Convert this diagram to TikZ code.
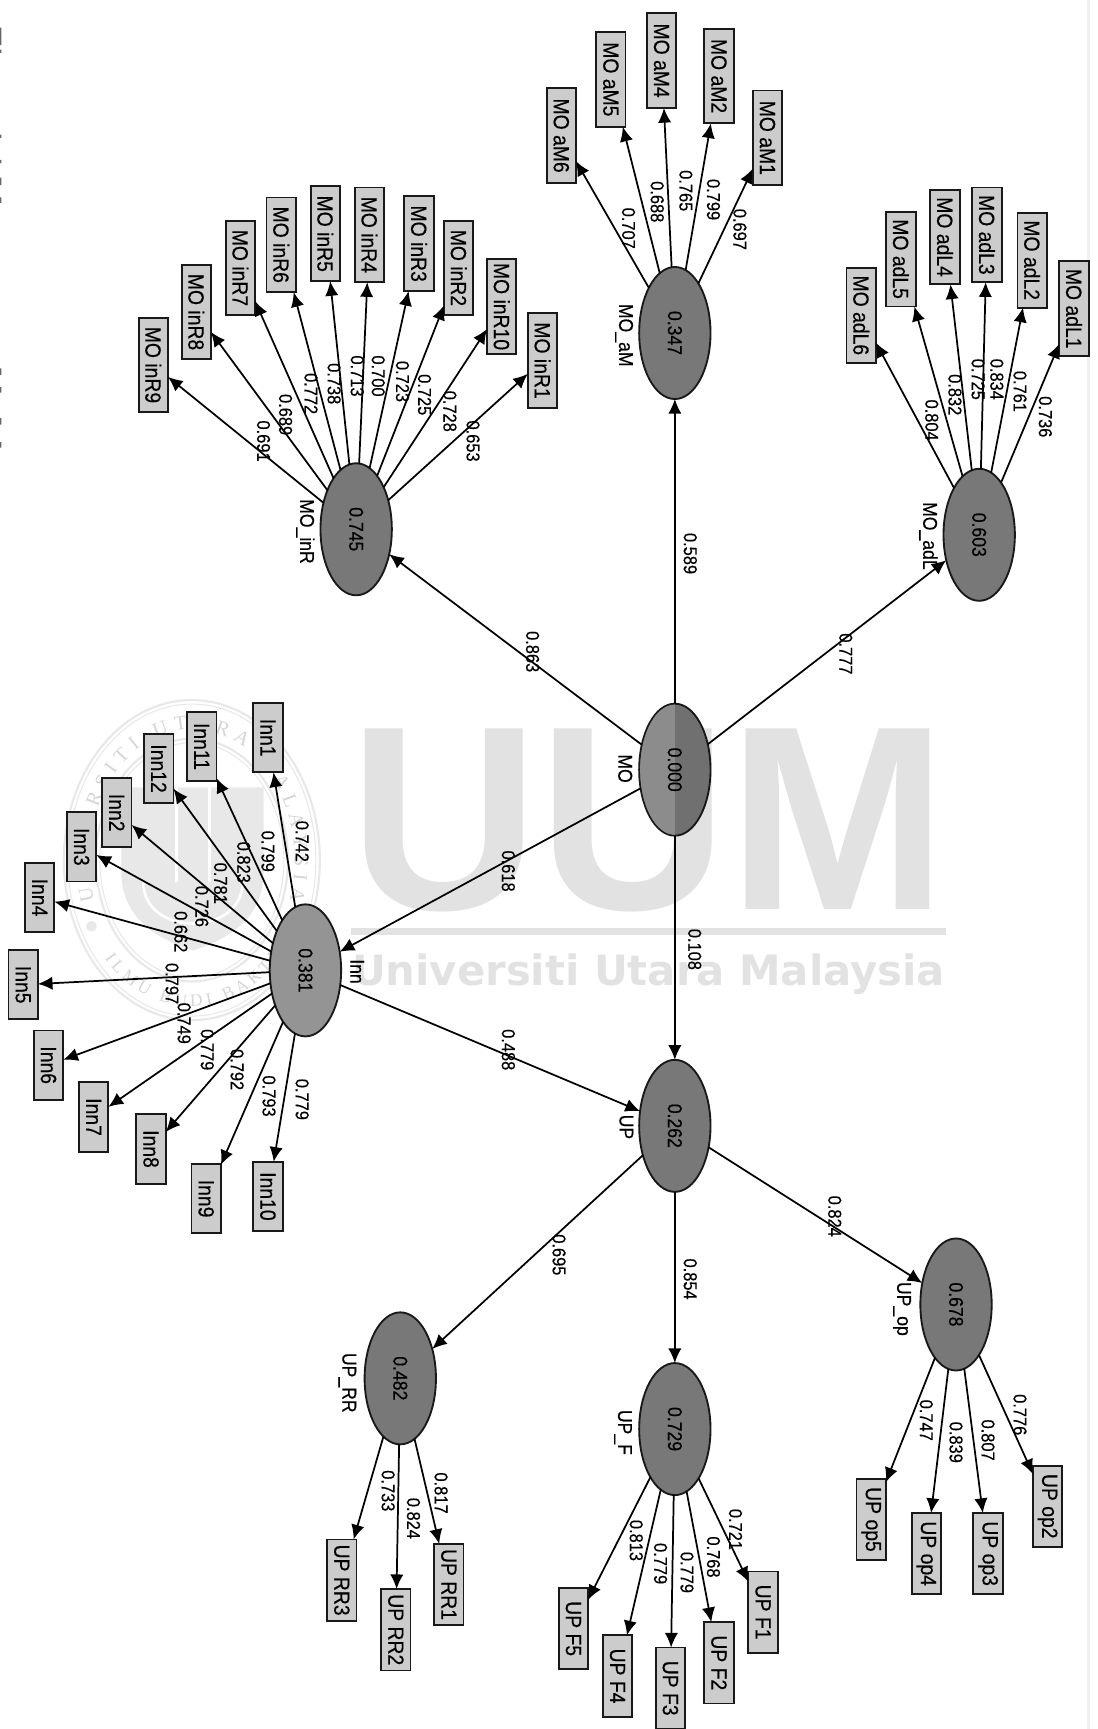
\documentclass[tikz,border=0pt]{standalone}
\usepackage{fontspec}
\setmainfont[FakeStretch=0.88,FakeBold=0.4]{Liberation Sans}
\newfontfamily\uumfont{Liberation Sans}
\newfontfamily\wmfont{DejaVu Sans}
\newfontfamily\sealfont{Liberation Serif}
\usetikzlibrary{arrows.meta,decorations.text,shapes.geometric}
\definecolor{markgray}{HTML}{E2E2E2}
\definecolor{sealgray}{HTML}{E8E8E8}
\definecolor{latentgray}{HTML}{787878}
\definecolor{itemgray}{HTML}{CCCCCC}
\tikzset{
  latent/.style={draw=black!90, line width=1.4pt, fill=latentgray, ellipse, rotate=-90, minimum width=99pt, minimum height=53.5pt, inner sep=0pt, outer sep=0pt, font=\fontsize{15}{15}\selectfont},
  item/.style={draw=black!90, line width=1.4pt, fill=itemgray, rotate=-90, minimum height=22pt, inner sep=0pt, outer sep=0pt, font=\fontsize{16.5}{16.5}\selectfont},
  moitem/.style={item, minimum width=71pt},
  innitem/.style={item, minimum width=52pt},
  upitem/.style={item, minimum width=61pt},
  val/.style={rotate=-90, inner sep=0pt, font=\fontsize{14}{14}\selectfont},
  latentname/.style={rotate=-90, inner sep=0pt, font=\fontsize{15}{15}\selectfont},
  link/.style={->, draw=black, line width=1.3pt},
  sealline/.style={draw=sealgray, line width=1.6pt}
}
\begin{document}
\begin{tikzpicture}[x=0.8269pt, y=-0.8269pt, >={Latex[length=11pt,width=10pt]}]
\useasboundingbox (0,0) rectangle (995,1568);
\draw[draw=black!6, line width=2pt] (987,0) -- (987,1568);
\fill[black!60] (0,25) rectangle (1.2,41) (0,45) rectangle (1.2,48) (0,122) rectangle (1.2,125) (0,145) rectangle (1.2,148) (0,161) rectangle (1.2,168) (0,179) rectangle (1.2,184) (0,334) rectangle (1.2,340) (0,351) rectangle (1.2,356) (0,379) rectangle (1.2,385) (0,401) rectangle (1.2,406);
\coordinate (sealc) at (174,780);
\draw[sealline] (sealc) ellipse [x radius=96pt, y radius=120pt];
\draw[sealline, line width=0.8pt] (sealc) ellipse [x radius=93pt, y radius=117pt];
\draw[sealline] (sealc) ellipse [x radius=72pt, y radius=91pt];
\draw[sealline, line width=0.8pt] (sealc) ellipse [x radius=69pt, y radius=88pt];
\fill[sealgray] (83,840) circle [radius=4pt];
\fill[sealgray] (263,840) circle [radius=4pt];
\path[decorate, decoration={text along path, text align=fit to path, text={|\sealfont\fontsize{15}{15}\selectfont\color{sealgray!92!black}|UNIVERSITI UTARA MALAYSIA}}] ([shift={(198:77pt and 98pt)}]sealc) arc [start angle=198, end angle=-18, x radius=77pt, y radius=98pt];
\path[decorate, decoration={text along path, text align=fit to path, text={|\sealfont\fontsize{13}{13}\selectfont\color{sealgray!92!black}|ILMU BUDI BAKTI}}] ([shift={(222:88pt and 110pt)}]sealc) arc [start angle=222, end angle=318, x radius=88pt, y radius=110pt];
\fill[sealgray] (110,714) -- (239,714) -- (239,790) .. controls (239,835) and (205,852) .. (175,862) .. controls (145,852) and (110,835) .. (110,790) -- cycle;
\draw[draw=white, line width=2pt] (160,714) -- (160,800) (190,714) -- (190,800) (130,800) .. controls (130,850) and (220,850) .. (220,800);
\node[font=\uumfont\bfseries\fontsize{197}{197}\selectfont, text=markgray, inner sep=0pt, anchor=base] (wmuum) at (588,825) {UUM};
\fill[markgray] (318,842) rectangle (858,848);
\node[font=\wmfont\bfseries\fontsize{31.3}{31.3}\selectfont, text=markgray, inner sep=0pt, anchor=base] (wmname) at (588,894) {Universiti Utara Malaysia};
\node[latent, fill=black!56] (MO) at (612,698) {};
\begin{scope}
\clip (560,630) rectangle (612,770);
\fill[black!45] (MO.center) ellipse [x radius=26pt, y radius=48.8pt];
\end{scope}
\node[rotate=-90, inner sep=0pt, font=\fontsize{15}{15}\selectfont] (MOvalue) at (MO.center) {0.000};
\node[latent] (MOinR) at (323,480) {0.745};
\node[latent] (MOaM) at (612,302) {0.347};
\node[latent] (MOadL) at (888,485) {0.603};
\node[latent, fill=black!42] (Inn) at (277,880) {0.381};
\node[latent] (UP) at (612,1021) {0.262};
\node[latent] (UPop) at (867,1183) {0.678};
\node[latent] (UPF) at (612,1296) {0.729};
\node[latent] (UPRR) at (363,1250) {0.482};
\node[latentname] (MOname) at (567,697) {MO};
\node[latentname] (MOinRname) at (277,482) {MO\_inR};
\node[latentname] (MOaMname) at (566,304) {MO\_aM};
\node[latentname] (MOadLname) at (842,486) {MO\_adL};
\node[latentname] (Innname) at (324,881) {Inn};
\node[latentname] (UPname) at (568,1022) {UP};
\node[latentname] (UPopname) at (818,1187) {UP\_op};
\node[latentname] (UPFname) at (565,1299) {UP\_F};
\node[latentname] (UPRRname) at (315,1254) {UP\_RR};
\draw[link] (MO) -- (MOinR);
\draw[link] (MO) -- (MOaM);
\draw[link] (MO) -- (MOadL);
\draw[link] (MO) -- (Inn);
\draw[link] (MO) -- (UP);
\draw[link] (Inn) -- (UP);
\draw[link] (UP) -- (UPop);
\draw[link] (UP) -- (UPF);
\draw[link] (UP) -- (UPRR);
\node[val] (MOinRv) at (483,591) {0.863};
\node[val] (MOaMv) at (626,502) {0.589};
\node[val] (MOadLv) at (767,593) {0.777};
\node[val] (MOInnv) at (461,790) {0.618};
\node[val] (MOUPv) at (630,861) {0.108};
\node[val] (InnUPv) at (461,952) {0.488};
\node[val] (UPopv) at (757,1103) {0.824};
\node[val] (UPFv) at (626,1160) {0.854};
\node[val] (UPRRv) at (507,1138) {0.695};
\node[moitem] (inR9) at (139,331) {MO inR9};
\node[moitem] (inR8) at (178,283) {MO inR8};
\node[moitem] (inR7) at (218,243) {MO inR7};
\node[moitem] (inR6) at (255,222) {MO inR6};
\node[moitem] (inR5) at (295,212) {MO inR5};
\node[moitem] (inR4) at (335,213) {MO inR4};
\node[moitem] (inR3) at (380,221) {MO inR3};
\node[moitem] (inR2) at (416,243) {MO inR2};
\node[moitem] (inR10) at (455,278) {MO inR10};
\node[moitem] (inR1) at (492,327) {MO inR1};
\draw[link] (MOinR) -- (inR9);
\draw[link] (MOinR) -- (inR8);
\draw[link] (MOinR) -- (inR7);
\draw[link] (MOinR) -- (inR6);
\draw[link] (MOinR) -- (inR5);
\draw[link] (MOinR) -- (inR4);
\draw[link] (MOinR) -- (inR3);
\draw[link] (MOinR) -- (inR2);
\draw[link] (MOinR) -- (inR10);
\draw[link] (MOinR) -- (inR1);
\node[val] (inR9v) at (239,400) {0.691};
\node[val] (inR8v) at (259,376) {0.689};
\node[val] (inR7v) at (282,357) {0.772};
\node[val] (inR6v) at (303,348) {0.738};
\node[val] (inR5v) at (324,341) {0.713};
\node[val] (inR4v) at (343,341) {0.700};
\node[val] (inR3v) at (365,346) {0.723};
\node[val] (inR2v) at (385,358) {0.725};
\node[val] (inR10v) at (408,373) {0.728};
\node[val] (inR1v) at (429,400) {0.653};
\node[moitem] (aM6) at (509,123) {MO aM6};
\node[moitem] (aM5) at (554,72) {MO aM5};
\node[moitem] (aM4) at (600,55) {MO aM4};
\node[moitem] (aM2) at (652,69) {MO aM2};
\node[moitem] (aM1) at (696,125) {MO aM1};
\draw[link] (MOaM) -- (aM6);
\draw[link] (MOaM) -- (aM5);
\draw[link] (MOaM) -- (aM4);
\draw[link] (MOaM) -- (aM2);
\draw[link] (MOaM) -- (aM1);
\node[val] (aM6v) at (570,207) {0.707};
\node[val] (aM5v) at (596,183) {0.688};
\node[val] (aM4v) at (622,173) {0.765};
\node[val] (aM2v) at (647,181) {0.799};
\node[val] (aM1v) at (671,208) {0.697};
\node[moitem] (adL6) at (781,286) {MO adL6};
\node[moitem] (adL5) at (817,235) {MO adL5};
\node[moitem] (adL4) at (857,215) {MO adL4};
\node[moitem] (adL3) at (895,213) {MO adL3};
\node[moitem] (adL2) at (936,236) {MO adL2};
\node[moitem] (adL1) at (974,280) {MO adL1};
\draw[link] (MOadL) -- (adL6);
\draw[link] (MOadL) -- (adL5);
\draw[link] (MOadL) -- (adL4);
\draw[link] (MOadL) -- (adL3);
\draw[link] (MOadL) -- (adL2);
\draw[link] (MOadL) -- (adL1);
\node[val] (adL6v) at (845,381) {0.804};
\node[val] (adL5v) at (866,358) {0.832};
\node[val] (adL4v) at (887,344) {0.725};
\node[val] (adL3v) at (904,344) {0.834};
\node[val] (adL2v) at (925,355) {0.761};
\node[val] (adL1v) at (948,378) {0.736};
\node[innitem] (Inn1) at (243,669) {Inn1};
\node[innitem] (Inn11) at (183,677) {Inn11};
\node[innitem] (Inn12) at (144,697) {Inn12};
\node[innitem] (Inn2) at (106,737) {Inn2};
\node[innitem] (Inn3) at (74,768) {Inn3};
\node[innitem] (Inn4) at (36,814) {Inn4};
\node[innitem] (Inn5) at (21,893) {Inn5};
\node[innitem] (Inn6) at (44,966) {Inn6};
\node[innitem] (Inn7) at (85,1013) {Inn7};
\node[innitem] (Inn8) at (137,1042) {Inn8};
\node[innitem] (Inn9) at (187,1087) {Inn9};
\node[innitem] (Inn10) at (243,1085) {Inn10};
\draw[link] (Inn) -- (Inn1);
\draw[link] (Inn) -- (Inn11);
\draw[link] (Inn) -- (Inn12);
\draw[link] (Inn) -- (Inn2);
\draw[link] (Inn) -- (Inn3);
\draw[link] (Inn) -- (Inn4);
\draw[link] (Inn) -- (Inn5);
\draw[link] (Inn) -- (Inn6);
\draw[link] (Inn) -- (Inn7);
\draw[link] (Inn) -- (Inn8);
\draw[link] (Inn) -- (Inn9);
\draw[link] (Inn) -- (Inn10);
\node[val] (Inn1v) at (274,763) {0.742};
\node[val] (Inn11v) at (243,772) {0.799};
\node[val] (Inn12v) at (221,782) {0.823};
\node[val] (Inn2v) at (200,801) {0.781};
\node[val] (Inn3v) at (183,822) {0.726};
\node[val] (Inn4v) at (164,845) {0.662};
\node[val] (Inn5v) at (156,892) {0.797};
\node[val] (Inn6v) at (167,928) {0.749};
\node[val] (Inn7v) at (188,952) {0.779};
\node[val] (Inn8v) at (215,970) {0.792};
\node[val] (Inn9v) at (244,994) {0.793};
\node[val] (Inn10v) at (274,997) {0.779};
\node[upitem] (op5) at (790,1378) {UP op5};
\node[upitem] (op4) at (840,1409) {UP op4};
\node[upitem] (op3) at (896,1409) {UP op3};
\node[upitem] (op2) at (950,1366) {UP op2};
\draw[link] (UPop) -- (op5);
\draw[link] (UPop) -- (op4);
\draw[link] (UPop) -- (op3);
\draw[link] (UPop) -- (op2);
\node[val] (op5v) at (840,1288) {0.747};
\node[val] (op4v) at (867,1308) {0.839};
\node[val] (op3v) at (896,1306) {0.807};
\node[val] (op2v) at (925,1283) {0.776};
\node[upitem] (F1) at (692,1462) {UP F1};
\node[upitem] (F2) at (652,1508) {UP F2};
\node[upitem] (F3) at (608,1531) {UP F3};
\node[upitem] (F4) at (560,1520) {UP F4};
\node[upitem] (F5) at (520,1477) {UP F5};
\draw[link] (UPF) -- (F1);
\draw[link] (UPF) -- (F2);
\draw[link] (UPF) -- (F3);
\draw[link] (UPF) -- (F4);
\draw[link] (UPF) -- (F5);
\node[val] (F1v) at (667,1387) {0.721};
\node[val] (F2v) at (647,1412) {0.768};
\node[val] (F3v) at (623,1426) {0.779};
\node[val] (F4v) at (599,1418) {0.779};
\node[val] (F5v) at (577,1397) {0.813};
\node[upitem] (RR1) at (407,1437) {UP RR1};
\node[upitem] (RR2) at (359,1478) {UP RR2};
\node[upitem] (RR3) at (310,1433) {UP RR3};
\draw[link] (UPRR) -- (RR1);
\draw[link] (UPRR) -- (RR2);
\draw[link] (UPRR) -- (RR3);
\node[val] (RR1v) at (400,1354) {0.817};
\node[val] (RR2v) at (375,1377) {0.824};
\node[val] (RR3v) at (352,1352) {0.733};
\end{tikzpicture}
\end{document}
